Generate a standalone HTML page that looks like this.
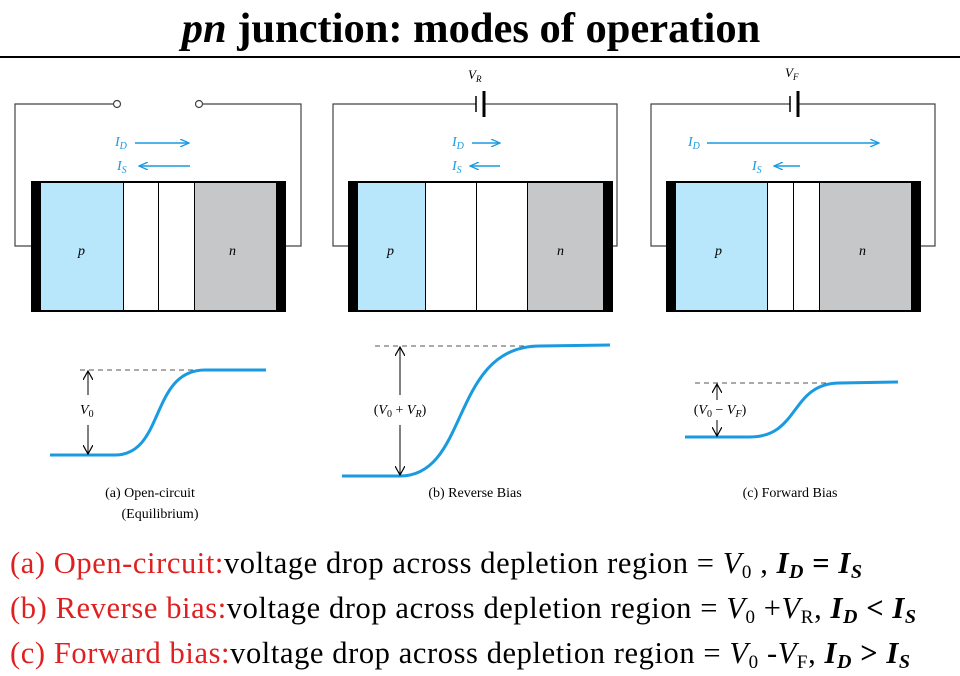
<!DOCTYPE html>
<html><head><meta charset="utf-8"><style>
html,body{margin:0;padding:0;background:#fff;width:960px;height:676px;overflow:hidden}
svg{display:block}
.t{font-family:"Liberation Serif",serif}
</style></head><body>
<svg width="960" height="676" viewBox="0 0 960 676" class="t">
<text x="471" y="42" text-anchor="middle" font-size="42.5" font-weight="bold"><tspan font-style="italic">pn</tspan> junction: modes of operation</text>
<line x1="0" y1="57" x2="960" y2="57" stroke="#000" stroke-width="2"/>
<defs>
<marker id="ab" markerWidth="10" markerHeight="8" refX="9" refY="4" orient="auto" markerUnits="userSpaceOnUse"><path d="M0,0 L9,4 L0,8" fill="none" stroke="#1a9ae0" stroke-width="1.3"/></marker>
<marker id="ak" markerWidth="10" markerHeight="10" refX="9" refY="5" orient="auto" markerUnits="userSpaceOnUse"><path d="M0,0 L9,5 L0,10" fill="none" stroke="#000" stroke-width="1.2"/></marker>
</defs>
<g id="ga">
<polyline points="114,104 15,104 15,246 31,246" fill="none" stroke="#444" stroke-width="1.2"/>
<polyline points="202,104 301,104 301,246 286,246" fill="none" stroke="#444" stroke-width="1.2"/>
<circle cx="117" cy="104" r="3.5" fill="#fff" stroke="#444" stroke-width="1.2"/>
<circle cx="199" cy="104" r="3.5" fill="#fff" stroke="#444" stroke-width="1.2"/>
<rect x="31" y="181" width="255" height="131" fill="#000"/>
<rect x="41" y="183" width="82" height="127" fill="#b8e6fa"/>
<rect x="124" y="183" width="34" height="127" fill="#fff"/>
<rect x="159" y="183" width="35" height="127" fill="#fff"/>
<rect x="195" y="183" width="81" height="127" fill="#c6c7c9"/>
<text x="78" y="255" font-size="14" font-style="italic">p</text>
<text x="229" y="255" font-size="14" font-style="italic">n</text>
<text x="115" y="146" font-size="14" font-style="italic" fill="#1a9ae0">I<tspan font-size="10" dy="3">D</tspan></text>
<text x="117" y="170" font-size="14" font-style="italic" fill="#1a9ae0">I<tspan font-size="10" dy="3">S</tspan></text>
<line x1="135" y1="143" x2="189" y2="143" stroke="#1a9ae0" stroke-width="1.5" marker-end="url(#ab)"/>
<line x1="190" y1="166" x2="139" y2="166" stroke="#1a9ae0" stroke-width="1.5" marker-end="url(#ab)"/>
<line x1="80" y1="370" x2="205" y2="370" stroke="#555" stroke-width="1" stroke-dasharray="5,4"/>
<path d="M50,455 L115,455 C165,455 150,370 205,370 L266,370" fill="none" stroke="#1a9ae0" stroke-width="3"/>
<line x1="88" y1="395" x2="88" y2="371" stroke="#000" stroke-width="1" marker-end="url(#ak)"/>
<line x1="88" y1="425" x2="88" y2="454" stroke="#000" stroke-width="1" marker-end="url(#ak)"/>
<text x="80" y="414" font-size="14" font-style="italic">V<tspan font-size="10" dy="3" font-style="normal">0</tspan></text>
<text x="150" y="497" font-size="14" text-anchor="middle">(a) Open-circuit</text>
<text x="160" y="518" font-size="14" text-anchor="middle">(Equilibrium)</text>
</g>
<g>
<polyline points="476,104 333,104 333,246 348,246" fill="none" stroke="#444" stroke-width="1.2"/>
<polyline points="484,104 617,104 617,246 613,246" fill="none" stroke="#444" stroke-width="1.2"/>
<line x1="476" y1="96" x2="476" y2="112" stroke="#000" stroke-width="1.5"/>
<line x1="484" y1="91" x2="484" y2="117" stroke="#000" stroke-width="3"/>
<text x="468" y="79" font-size="13" font-style="italic">V<tspan font-size="9" dy="3">R</tspan></text>
<rect x="348" y="181" width="265" height="131" fill="#000"/>
<rect x="358" y="183" width="67" height="127" fill="#b8e6fa"/>
<rect x="426" y="183" width="50" height="127" fill="#fff"/>
<rect x="477" y="183" width="50" height="127" fill="#fff"/>
<rect x="528" y="183" width="75" height="127" fill="#c6c7c9"/>
<text x="387" y="255" font-size="14" font-style="italic">p</text>
<text x="557" y="255" font-size="14" font-style="italic">n</text>
<text x="452" y="146" font-size="14" font-style="italic" fill="#1a9ae0">I<tspan font-size="10" dy="3">D</tspan></text>
<text x="452" y="170" font-size="14" font-style="italic" fill="#1a9ae0">I<tspan font-size="10" dy="3">S</tspan></text>
<line x1="472" y1="143" x2="500" y2="143" stroke="#1a9ae0" stroke-width="1.5" marker-end="url(#ab)"/>
<line x1="500" y1="166" x2="470" y2="166" stroke="#1a9ae0" stroke-width="1.5" marker-end="url(#ab)"/>
<line x1="375" y1="346" x2="540" y2="346" stroke="#555" stroke-width="1" stroke-dasharray="5,4"/>
<path d="M342,476 L400,476 C470,476 450,346 540,346 L610,345" fill="none" stroke="#1a9ae0" stroke-width="3"/>
<line x1="400" y1="395" x2="400" y2="347" stroke="#000" stroke-width="1" marker-end="url(#ak)"/>
<line x1="400" y1="425" x2="400" y2="475" stroke="#000" stroke-width="1" marker-end="url(#ak)"/>
<text x="400" y="414" font-size="14" text-anchor="middle">(<tspan font-style="italic">V</tspan><tspan font-size="10" dy="3">0</tspan><tspan dy="-3"> + </tspan><tspan font-style="italic">V</tspan><tspan font-size="10" dy="3" font-style="italic">R</tspan><tspan dy="-3">)</tspan></text>
<text x="475" y="497" font-size="14" text-anchor="middle">(b) Reverse Bias</text>
</g>
<g>
<polyline points="790,104 651,104 651,246 666,246" fill="none" stroke="#444" stroke-width="1.2"/>
<polyline points="798,104 935,104 935,246 921,246" fill="none" stroke="#444" stroke-width="1.2"/>
<line x1="790" y1="96" x2="790" y2="112" stroke="#000" stroke-width="1.5"/>
<line x1="798" y1="91" x2="798" y2="117" stroke="#000" stroke-width="3"/>
<text x="785" y="77" font-size="13" font-style="italic">V<tspan font-size="9" dy="3">F</tspan></text>
<rect x="666" y="181" width="255" height="131" fill="#000"/>
<rect x="676" y="183" width="91" height="127" fill="#b8e6fa"/>
<rect x="768" y="183" width="25" height="127" fill="#fff"/>
<rect x="794" y="183" width="25" height="127" fill="#fff"/>
<rect x="820" y="183" width="91" height="127" fill="#c6c7c9"/>
<text x="715" y="255" font-size="14" font-style="italic">p</text>
<text x="859" y="255" font-size="14" font-style="italic">n</text>
<text x="688" y="146" font-size="14" font-style="italic" fill="#1a9ae0">I<tspan font-size="10" dy="3">D</tspan></text>
<text x="752" y="170" font-size="14" font-style="italic" fill="#1a9ae0">I<tspan font-size="10" dy="3">S</tspan></text>
<line x1="707" y1="143" x2="879" y2="143" stroke="#1a9ae0" stroke-width="1.5" marker-end="url(#ab)"/>
<line x1="800" y1="166" x2="774" y2="166" stroke="#1a9ae0" stroke-width="1.5" marker-end="url(#ab)"/>
<line x1="695" y1="383" x2="840" y2="383" stroke="#555" stroke-width="1" stroke-dasharray="5,4"/>
<path d="M685,437 L750,437 C800,437 790,383 840,383 L898,382" fill="none" stroke="#1a9ae0" stroke-width="3"/>
<line x1="717" y1="400" x2="717" y2="384" stroke="#000" stroke-width="1" marker-end="url(#ak)"/>
<line x1="717" y1="420" x2="717" y2="436" stroke="#000" stroke-width="1" marker-end="url(#ak)"/>
<text x="720" y="414" font-size="14" text-anchor="middle">(<tspan font-style="italic">V</tspan><tspan font-size="10" dy="3">0</tspan><tspan dy="-3"> − </tspan><tspan font-style="italic">V</tspan><tspan font-size="10" dy="3" font-style="italic">F</tspan><tspan dy="-3">)</tspan></text>
<text x="790" y="497" font-size="14" text-anchor="middle">(c) Forward Bias</text>
</g>
<g font-size="30.5">
<text x="10" y="573" textLength="852" lengthAdjust="spacing"><tspan fill="#e02020">(a) Open-circuit:</tspan>voltage  drop across depletion region = <tspan font-style="italic">V</tspan><tspan font-size="19" dy="5">0</tspan><tspan dy="-5"> , </tspan><tspan font-weight="bold" font-style="italic">I</tspan><tspan font-weight="bold" font-style="italic" font-size="20" dy="5">D</tspan><tspan font-weight="bold" dy="-5"> = </tspan><tspan font-weight="bold" font-style="italic">I</tspan><tspan font-weight="bold" font-style="italic" font-size="20" dy="5">S</tspan></text>
<text x="10" y="618" textLength="906" lengthAdjust="spacing"><tspan fill="#e02020">(b) Reverse bias:</tspan>voltage  drop across depletion region = <tspan font-style="italic">V</tspan><tspan font-size="19" dy="5">0</tspan><tspan dy="-5"> +</tspan><tspan font-style="italic">V</tspan><tspan font-size="19" dy="5">R</tspan><tspan dy="-5">, </tspan><tspan font-weight="bold" font-style="italic">I</tspan><tspan font-weight="bold" font-style="italic" font-size="20" dy="5">D</tspan><tspan font-weight="bold" dy="-5"> &lt; </tspan><tspan font-weight="bold" font-style="italic">I</tspan><tspan font-weight="bold" font-style="italic" font-size="20" dy="5">S</tspan></text>
<text x="10" y="663" textLength="900" lengthAdjust="spacing"><tspan fill="#e02020">(c) Forward bias:</tspan>voltage  drop across depletion region = <tspan font-style="italic">V</tspan><tspan font-size="19" dy="5">0</tspan><tspan dy="-5"> -</tspan><tspan font-style="italic">V</tspan><tspan font-size="19" dy="5">F</tspan><tspan dy="-5">, </tspan><tspan font-weight="bold" font-style="italic">I</tspan><tspan font-weight="bold" font-style="italic" font-size="20" dy="5">D</tspan><tspan font-weight="bold" dy="-5"> &gt; </tspan><tspan font-weight="bold" font-style="italic">I</tspan><tspan font-weight="bold" font-style="italic" font-size="20" dy="5">S</tspan></text>
</g>
</svg>
</body></html>
